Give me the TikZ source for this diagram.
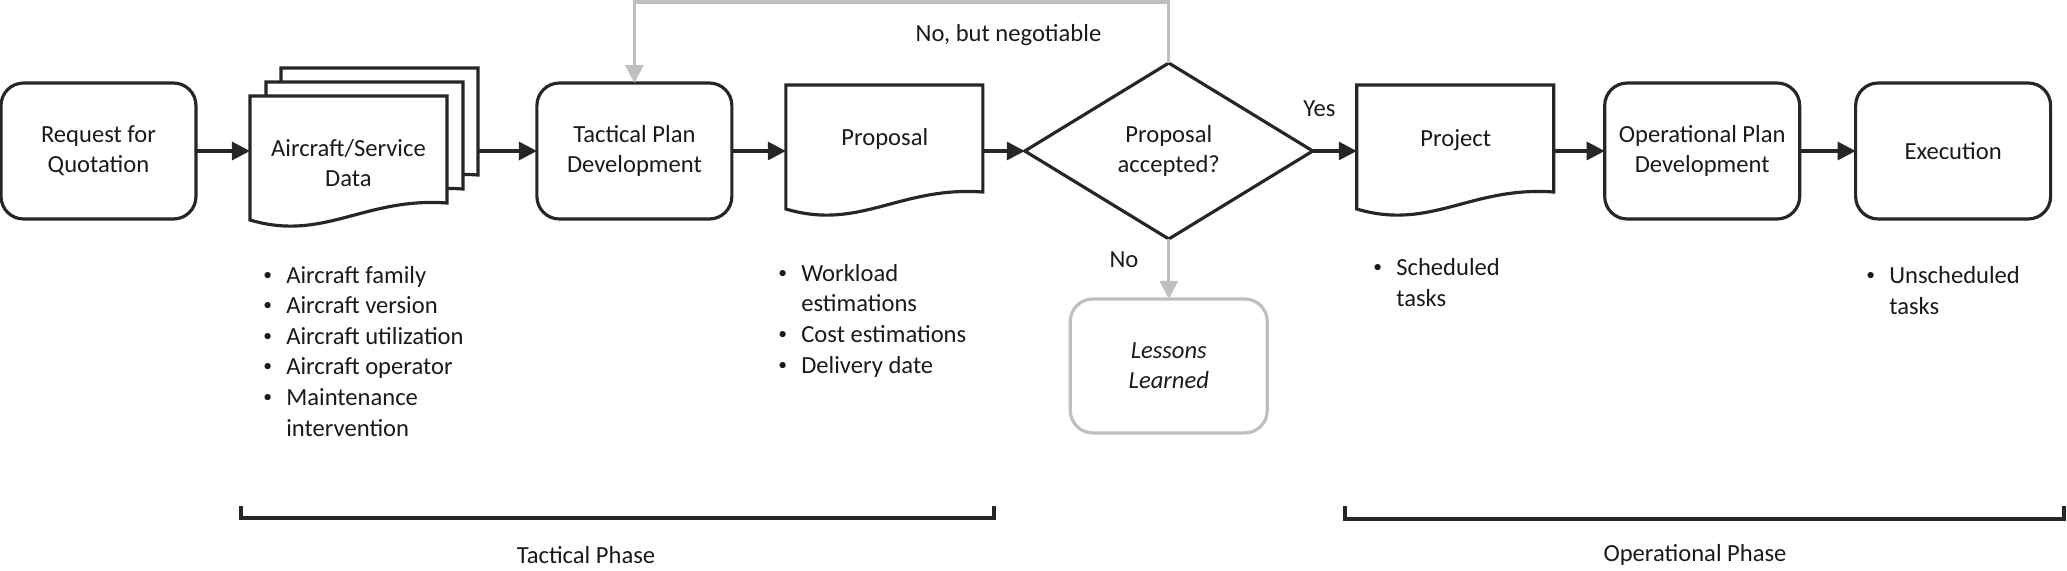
\documentclass[tikz,border=0pt]{standalone}
\usepackage{fontspec}
\setmainfont{Carlito}
\usetikzlibrary{
    arrows.meta,
    positioning,
    shapes.geometric,
    backgrounds
}

\definecolor{lineDark}{HTML}{262626}
\definecolor{lineGrey}{HTML}{BFBFBF}
\definecolor{txtDark}{HTML}{1A1A1A}

% document outline, local px units
\newcommand{\docpath}{(0,0) -- (197,0) -- (197,107) .. controls (114,101) and (74,146) .. (0,124) -- cycle}
\newcommand{\bitem}[1]{\makebox[0.46cm][l]{\raisebox{0.12em}{\fontsize{10}{10}\selectfont\textbullet}}#1}
\newcommand{\bcont}[1]{\hspace*{0.46cm}#1}

\begin{document}
\begin{tikzpicture}[
        x=0.02cm, y=-0.02cm,
        font=\fontsize{14}{17}\selectfont, text=txtDark,
        block/.style={rectangle, rounded corners=0.45cm, draw=lineDark, line width=1.8pt,
                      minimum width=3.9cm, minimum height=2.72cm, align=center,
                      outer sep=0pt, inner sep=2pt},
        docbox/.style={rectangle, minimum width=3.96cm, minimum height=2.64cm,
                       outer sep=0pt, inner sep=0pt},
        docline/.style={draw=lineDark, line width=1.8pt, fill=white},
        doctext/.style={align=center, inner sep=0pt},
        decision/.style={diamond, draw=lineDark, line width=1.8pt, minimum width=5.76cm,
                         minimum height=3.52cm, align=center, outer sep=0pt, inner sep=0pt},
        arrow/.style={-{Triangle[length=0.36cm,width=0.36cm]}, line width=1.8pt, draw=lineDark},
        greyarrow/.style={-{Triangle[length=0.36cm,width=0.36cm]}, line width=1.8pt, draw=lineGrey},
        bullets/.style={align=left, inner sep=0pt, anchor=base west,
                        font=\fontsize{14}{17.4}\selectfont},
        phase/.style={line width=1.9pt, draw=lineDark},
    ]
    \useasboundingbox (0,0) rectangle (2067,571);

    % Main row
    \node[block] (req) at (98.5,151) {Request for\\Quotation};
    \node[docbox, right=1.08cm of req, minimum width=4.56cm, minimum height=3.32cm,
          label={[doctext, xshift=-0.31cm, yshift=-0.24cm]center:Aircraft/Service\\Data}] (acd) {};
    \node[block, right=1.18cm of acd] (tac) {Tactical Plan\\Development};
    \node[docbox, right=1.08cm of tac, label={[doctext, yshift=0.24cm]center:Proposal}] (prop) {};
    \node[decision, right=0.82cm of prop] (dec) {Proposal\\accepted?};
    \node[docbox, right=0.88cm of dec, label={[doctext, yshift=0.22cm]center:Project}] (proj) {};
    \node[block, right=1.0cm of proj] (opp) {Operational Plan\\Development};
    \node[block, right=1.12cm of opp] (exe) {Execution};
    \node[block, draw=lineGrey, below=1.2cm of dec, minimum width=3.94cm, minimum height=2.68cm,
          font=\fontsize{14}{17}\selectfont\itshape] (les) {Lessons\\Learned};

    % Document outlines
    \begin{scope}[on background layer]
        \draw[docline, shift={([xshift=0.62cm]acd.north west)}] \docpath;
        \draw[docline, shift={([xshift=0.32cm, yshift=-0.28cm]acd.north west)}] \docpath;
        \draw[docline, shift={([yshift=-0.56cm]acd.north west)}] \docpath;
        \draw[docline, shift={(prop.north west)}] \docpath;
        \draw[docline, shift={(proj.north west)}] \docpath;
    \end{scope}

    % Arrows
    \draw[arrow] (req)  -- (acd);
    \draw[arrow] (acd)  -- (tac);
    \draw[arrow] (tac)  -- (prop);
    \draw[arrow] (prop) -- (dec);
    \draw[arrow] (dec)  -- node[pos=0.15, above=0.54cm] {Yes} (proj);
    \draw[arrow] (proj) -- (opp);
    \draw[arrow] (opp)  -- (exe);

    % Grey branches
    \draw[greyarrow] (dec) -- node[pos=0.35, left=0.46cm] {No} (les);
    \draw[greyarrow] (dec.north) -- ++(0,-61) coordinate (fbtop) -| (tac.north)
        node[pos=0.15, below=0.3cm] {No, but negotiable};

    % Bullet lists (anchored at the last baseline)
    \node[bullets] (acdlist) at (263,436)
        {\bitem{Aircraft family}\\ \bitem{Aircraft version}\\ \bitem{Aircraft utilization}\\
         \bitem{Aircraft operator}\\ \bitem{Maintenance}\\ \bcont{intervention}};
    \node[bullets] (proplist) at (778,373)
        {\bitem{Workload}\\ \bcont{estimations}\\ \bitem{Cost estimations}\\ \bitem{Delivery date}};
    \node[bullets] (projlist) at (1373,306) {\bitem{Scheduled}\\ \bcont{tasks}};
    \node[bullets] (exelist) at (1866,314) {\bitem{Unscheduled}\\ \bcont{tasks}};

    % Phases
    \draw[phase] (241,506) |- (994,518) -- (994,506);
    \node (tacphase) at (586,555) {Tactical Phase};
    \draw[phase] (1345,506) |- (2064,519) -- (2064,506);
    \node (opphase) at (1695,555) {Operational Phase};

\end{tikzpicture}
\end{document}
